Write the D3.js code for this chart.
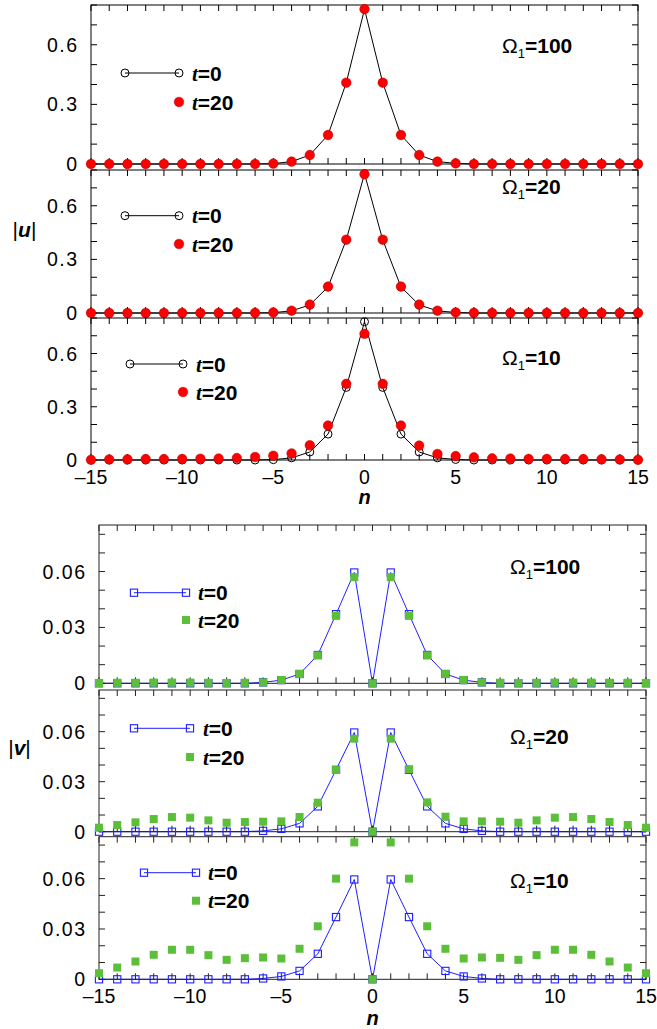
<!DOCTYPE html>
<html>
<head>
<meta charset="utf-8">
<script src="https://cdn.jsdelivr.net/npm/d3@7"></script>
<style>
body { margin: 0; background: #fff; }
text { font-family: "Liberation Sans", Arial, sans-serif; }
</style>
</head>
<body>
<svg id="chart" width="657" height="1029"></svg>
<script>
// lattice sites
var sites = [-15,-14,-13,-12,-11,-10,-9,-8,-7,-6,-5,-4,-3,-2,-1,0,1,2,3,4,5,6,7,8,9,10,11,12,13,14,15];
var xLabels = [-15,-10,-5,0,5,10,15];
var omegas = ["100", "20", "10"];

var uTicks = [0,0.1,0.2,0.3,0.4,0.5,0.6,0.7,0.8];
var uLabels = [0,0.3,0.6];
var vTicks = [0,0.01,0.02,0.03,0.04,0.05,0.06,0.07,0.08];
var vLabels = [0,0.03,0.06];

// |u| at t=0 (same initial state for all three panels)
var u_t0 = [0,0,0,0,0,0,0,0,0,0,0.002,0.012,0.045,0.146,0.409,0.779,0.409,0.146,0.045,0.012,0.003,0,0,0,0,0,0,0,0,0,0];
// |u| at t=20
var u_t20_100 = [0,0,0,0,0,0,0,0,0,0,0.002,0.012,0.045,0.146,0.409,0.779,0.409,0.146,0.045,0.012,0.003,0,0,0,0,0,0,0,0,0,0];
var u_t20_20  = [0,0,0,0,0,0,0,0,0,0.001,0.003,0.013,0.047,0.148,0.41,0.776,0.41,0.148,0.047,0.013,0.003,0.001,0,0,0,0,0,0,0,0,0];
var u_t20_10  = [0.001,0.003,0.004,0.005,0.005,0.006,0.007,0.008,0.011,0.017,0.024,0.037,0.083,0.194,0.429,0.711,0.429,0.194,0.081,0.034,0.022,0.015,0.009,0.008,0.006,0.006,0.005,0.005,0.004,0.003,0.001];

// |v| at t=0
var v_t0 = [0,0,0,0,0,0,0,0,0,0.0005,0.0017,0.005,0.0152,0.0371,0.0595,0,0.0595,0.0371,0.0152,0.005,0.0017,0.0005,0,0,0,0,0,0,0,0,0];
// |v| at t=20
var v_t20_100 = [0.0002,0.0003,0.0003,0.0004,0.0004,0.0004,0.0003,0.0002,0.0003,0.0005,0.0018,0.005,0.015,0.0362,0.057,0,0.057,0.0362,0.015,0.005,0.0018,0.0005,0.0003,0.0002,0.0003,0.0004,0.0004,0.0004,0.0003,0.0003,0.0002];
var v_t20_20  = [0.0024,0.004,0.0056,0.0076,0.0088,0.0084,0.0068,0.0054,0.0058,0.006,0.0062,0.0088,0.0174,0.037,0.0558,0,0.0558,0.0374,0.0176,0.009,0.0062,0.0062,0.006,0.0054,0.0068,0.0084,0.0088,0.0076,0.0058,0.004,0.0024];
var v_t20_10  = [0.0036,0.007,0.0106,0.0146,0.0176,0.0176,0.0144,0.0116,0.0126,0.013,0.0124,0.0182,0.0316,0.06,0.0816,0,0.0816,0.06,0.0316,0.0182,0.0124,0.013,0.0128,0.0116,0.0144,0.0176,0.0176,0.0146,0.0106,0.007,0.0036];

var svg = d3.select("#chart");
var RED = "#ff0000", GREEN = "#5cbf3a", BLUE = "#1f1fff";

var groups = [
  { left: 91, right: 638, ymax: 0.8, ticks: uTicks, labels: uLabels, kind: "u", frame: "#000",
    panels: [
      { top: 5,   bot: 164,   t0: u_t0, t20: u_t20_100, om: omegas[0], omY: 53,  leg: [125,179,73,102,192] },
      { top: 170, bot: 313,   t0: u_t0, t20: u_t20_20,  om: omegas[1], omY: 194, leg: [125,179,215.7,244,192] },
      { top: 318, bot: 460,   t0: u_t0, t20: u_t20_10,  om: omegas[2], omY: 365, leg: [130,183,364,392,196] }
    ] },
  { left: 99, right: 646, ymax: 0.085, ticks: vTicks, labels: vLabels, kind: "v", frame: "#222",
    panels: [
      { top: 525,   bot: 683.3, t0: v_t0, t20: v_t20_100, om: omegas[0], omY: 574, leg: [134,186,592.7,620,198] },
      { top: 690,   bot: 831.7, t0: v_t0, t20: v_t20_20,  om: omegas[1], omY: 744, leg: [134,190,728.3,757,203] },
      { top: 836.7, bot: 979.3, t0: v_t0, t20: v_t20_10,  om: omegas[2], omY: 888, leg: [144,196,872.7,900.7,208] }
    ] }
];

function fmt(d) { return d === 0 ? "0" : String(d); }

function drawMarker(g, kind, which, x, y) {
  if (kind === "u") {
    if (which === 0) {
      g.append("circle").attr("cx", x).attr("cy", y).attr("r", 4)
        .attr("fill", "none").attr("stroke", "#000").attr("stroke-width", 1);
    } else {
      g.append("circle").attr("cx", x).attr("cy", y).attr("r", 4.8)
        .attr("fill", RED).attr("stroke", "#b00").attr("stroke-width", 0.5);
    }
  } else {
    if (which === 0) {
      g.append("rect").attr("x", x - 3.6).attr("y", y - 3.6).attr("width", 7.2).attr("height", 7.2)
        .attr("fill", "none").attr("stroke", BLUE).attr("stroke-width", 1.1);
    } else {
      g.append("rect").attr("x", x - 4).attr("y", y - 4).attr("width", 8).attr("height", 8)
        .attr("fill", GREEN);
    }
  }
}

groups.forEach(function(G, gi) {
  var x = d3.scaleLinear().domain([-15, 15]).range([G.left, G.right]);
  var lineCol = G.kind === "u" ? "#000" : BLUE;

  G.panels.forEach(function(P, pi) {
    var y = d3.scaleLinear().domain([0, G.ymax]).range([P.bot, P.top]);
    var g = svg.append("g");

    // data line
    var line = d3.line().x(function(d, i) { return x(sites[i]); }).y(function(d) { return y(d); });
    g.append("path").datum(P.t0).attr("d", line).attr("fill", "none")
      .attr("stroke", lineCol).attr("stroke-width", 1);

    // frame
    g.append("rect").attr("x", G.left).attr("y", P.top)
      .attr("width", G.right - G.left).attr("height", P.bot - P.top)
      .attr("fill", "none").attr("stroke", G.frame).attr("stroke-width", 1);

    // x ticks (inward, top and bottom)
    sites.forEach(function(s) {
      g.append("line").attr("x1", x(s)).attr("x2", x(s)).attr("y1", P.bot).attr("y2", P.bot - 6)
        .attr("stroke", G.frame);
      g.append("line").attr("x1", x(s)).attr("x2", x(s)).attr("y1", P.top).attr("y2", P.top + 6)
        .attr("stroke", G.frame);
    });
    // y ticks (inward, left and right)
    G.ticks.forEach(function(t) {
      g.append("line").attr("x1", G.left).attr("x2", G.left + 6).attr("y1", y(t)).attr("y2", y(t))
        .attr("stroke", G.frame);
      g.append("line").attr("x1", G.right).attr("x2", G.right - 6).attr("y1", y(t)).attr("y2", y(t))
        .attr("stroke", G.frame);
    });
    // y labels
    G.labels.forEach(function(t) {
      g.append("text").attr("x", G.left - 12.5).attr("y", y(t) + 7)
        .attr("text-anchor", "end").attr("font-size", 19.5).attr("letter-spacing", 1.5).text(fmt(t));
    });

    P.t0.forEach(function(d, i) { drawMarker(g, G.kind, 0, x(sites[i]), y(d)); });
    P.t20.forEach(function(d, i) { drawMarker(g, G.kind, 1, x(sites[i]), y(d)); });

    // legend
    var L = P.leg;
    g.append("line").attr("x1", L[0]).attr("x2", L[1]).attr("y1", L[2]).attr("y2", L[2])
      .attr("stroke", lineCol).attr("stroke-width", 1);
    drawMarker(g, G.kind, 0, L[0], L[2]);
    drawMarker(g, G.kind, 0, L[1], L[2]);
    drawMarker(g, G.kind, 1, L[1], L[3]);
    [["0", L[2]], ["20", L[3]]].forEach(function(e) {
      var t = g.append("text").attr("x", L[4]).attr("y", e[1] + 7.5)
        .attr("font-size", 21).attr("font-weight", "bold");
      t.append("tspan").attr("font-family", "Liberation Serif").attr("font-style", "italic").text("t");
      t.append("tspan").text("=" + e[0]);
    });

    // Omega label
    var om = g.append("text").attr("x", G.kind === "u" ? 502 : 510).attr("y", P.omY).attr("font-size", 21);
    om.append("tspan").text("\u03A9");
    om.append("tspan").attr("font-size", 13).attr("dy", 5).text("1");
    om.append("tspan").attr("dy", -5).attr("font-weight", "bold").text("=" + P.om);

    // x labels on last panel
    if (pi === G.panels.length - 1) {
      xLabels.forEach(function(v) {
        g.append("text").attr("x", x(v)).attr("y", P.bot + 24).attr("text-anchor", "middle")
          .attr("font-size", 19.5)
          .text(v < 0 ? "\u2013" + Math.abs(v) : String(v));
      });
      g.append("text").attr("x", x(0)).attr("y", G.kind === "u" ? 504 : 1025)
        .attr("text-anchor", "middle").attr("font-size", 20).attr("font-weight", "bold")
        .attr("font-style", "italic").attr("font-family", "Liberation Serif").text("n");
    }
  });

  // y axis title
  var yt = svg.append("text").attr("x", G.kind === "u" ? 24.5 : 19.5).attr("y", G.kind === "u" ? 237 : 755)
    .attr("text-anchor", "middle").attr("font-size", 21).attr("font-family", "Liberation Serif");
  yt.append("tspan").text("|");
  yt.append("tspan").attr("font-style", "italic").attr("font-weight", "bold").text(G.kind);
  yt.append("tspan").text("|");
});
</script>
</body>
</html>
